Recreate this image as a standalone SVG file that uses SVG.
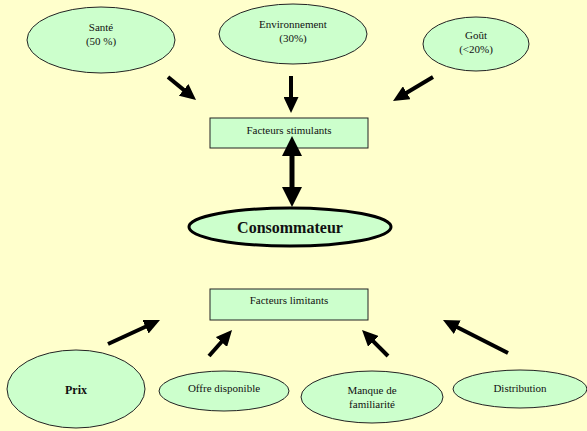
<svg xmlns="http://www.w3.org/2000/svg" width="587" height="431" viewBox="0 0 587 431">
<style>
.n{fill:#CCFFCC;stroke:#222;stroke-width:1}
.t{font-family:'Liberation Serif','Times New Roman','DejaVu Serif',serif;font-size:11px;fill:#111;text-anchor:middle}
.b{font-weight:bold}
.a{stroke:#000;stroke-width:4;fill:none;marker-end:url(#h)}
</style>
<defs>
<marker id="h" markerUnits="userSpaceOnUse" markerWidth="16" markerHeight="15" refX="6" refY="7.5" orient="auto"><path d="M0,0 L16,7.5 L0,15 z" fill="#000"/></marker>
<marker id="h2" markerUnits="userSpaceOnUse" markerWidth="20" markerHeight="20" refX="6" refY="10" orient="auto-start-reverse"><path d="M0,0 L20,10 L0,20 z" fill="#000"/></marker>
</defs>
<rect width="587" height="431" fill="#FFFFCC"/>
<g id="sante"><ellipse class="n" cx="101" cy="40" rx="74" ry="33"/><text class="t" x="101" y="31">Santé</text><text class="t" x="101" y="45">(50 %)</text></g>
<g id="environnement"><ellipse class="n" cx="293" cy="34" rx="74" ry="30"/><text class="t" x="293" y="28">Environnement</text><text class="t" x="293" y="42">(30%)</text></g>
<g id="gout"><ellipse class="n" cx="476" cy="44" rx="53" ry="27"/><text class="t" x="476" y="39">Goût</text><text class="t" x="476" y="53">(&lt;20%)</text></g>
<g id="stimulants"><rect class="n" x="210" y="118" width="158" height="30"/><text class="t" x="289" y="134">Facteurs stimulants</text></g>
<g id="consommateur"><ellipse class="n" cx="290" cy="227" rx="101" ry="19" style="stroke-width:3;stroke:#000"/><text class="t b" x="290" y="233" style="font-size:16px">Consommateur</text></g>
<g id="limitants"><rect class="n" x="210" y="289" width="158" height="31"/><text class="t" x="289" y="304">Facteurs limitants</text></g>
<g id="prix"><ellipse class="n" cx="76" cy="389" rx="69" ry="39"/><text class="t b" x="76" y="394" style="font-size:12px">Prix</text></g>
<g id="offre"><ellipse class="n" cx="224" cy="391" rx="65" ry="20"/><text class="t" x="224" y="392">Offre disponible</text></g>
<g id="manque"><ellipse class="n" cx="372" cy="397" rx="71" ry="26"/><text class="t" x="372" y="394">Manque de</text><text class="t" x="372" y="408">familiarité</text></g>
<g id="distribution"><ellipse class="n" cx="520" cy="389" rx="67" ry="19"/><text class="t" x="520" y="392">Distribution</text></g>
<g id="connectors">
<line class="a" x1="168" y1="77" x2="188.3" y2="93.6"/>
<line class="a" x1="291" y1="76" x2="291" y2="103"/>
<line class="a" x1="433" y1="77" x2="401.6" y2="95.8"/>
<line stroke="#000" stroke-width="5" x1="292" y1="150" x2="292" y2="193" marker-start="url(#h2)" marker-end="url(#h2)"/>
<line class="a" x1="108" y1="344" x2="150.9" y2="324.2"/>
<line class="a" x1="209" y1="356" x2="225.4" y2="337.5"/>
<line class="a" x1="388" y1="356" x2="369.1" y2="337.1"/>
<line class="a" x1="508" y1="353" x2="451.9" y2="324.5"/>
</g>
</svg>
